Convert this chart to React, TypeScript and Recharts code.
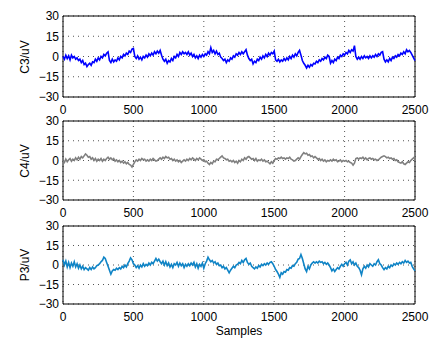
import React from "react";
import { LineChart, Line, XAxis, YAxis, CartesianGrid, ReferenceArea } from "recharts";

// one value every 10 samples
const c3 = [
  0, -2, 1, -1.5, 0.5, -2.5, 1, -1, 0, -2,
  -1, -3, -2, -4.5, -3, -6, -5, -7.5, -6, -5,
  -6.5, -4, -4.5, -2, -3.5, -1, -2.5, 0, -1, 1.5,
  0.5, 2.5, 3.5, -3, -4.5, -2, -4, -2.5, -3.5, -1,
  -2.5, 0, -1, 1.5, 0.5, 2.5, 1.5, 4, 3, 5.5,
  6, 0, -1.5, 0.5, -2, -0.5, -2.5, 0, -1, 1,
  -0.5, 2, 0.5, 2.5, 1, 3.5, 2, 4, 2.5, 4.5,
  1, -2, -3.5, -2, -5, -3, -4, -1.5, -3, 0,
  -1, 1.5, 0, 3, 1.5, 3.5, 2, 3, 1.5, 3.5,
  1, 2.5, 0, 1.5, -1, 0.5, -1.5, 1, -0.5, 1.5,
  0, 2, 1, 3.5, 2, 6.5, 3, 4.5, 2, 4,
  1.5, 2.5, -0.5, -1.5, -3, -2, -4.5, -2.5, -3.5, -1,
  -2, 0.5, -0.5, 2, 1, 3, 1.5, 3.5, 2, 3.5,
  5, 1, -1.5, -3, -2, -5.5, -3.5, -4.5, -2, -3,
  -0.5, -2, 0.5, -1, 1.5, 0, 2.5, 1, 3, 2,
  4, -2.5, -3.5, -2, -4, -2.5, -3.5, -1.5, -3, -1,
  -2.5, 0, -1.5, 1, -0.5, 2, 0.5, 3, 4.5, 1,
  -3, -5, -6.5, -8.5, -6.5, -8, -6, -7, -5, -5.5,
  -3.5, -4.5, -2.5, -3.5, -1.5, -2.5, -0.5, -1.5, 1, 0,
  -5, -3, -4.5, -2, -3, -0.5, -1.5, 1, 0, 2,
  1, 3, 2, 4.5, 3, 5, 4, 8, 0, -2,
  -0.5, -2, 0, -1.5, 0.5, -1, 0, -1.5, 0.5, -1,
  0.5, -0.5, 1.5, 0, 2, 1, 3, 3.5, -2, -4,
  -2.5, -4, -1.5, -3, -0.5, -1.5, 0.5, -0.5, 1.5, 0.5,
  2.5, 1.5, 3.5, 2, 5, 3.5, 4.5, 3, 1, -1,
  -3,
];

const c4 = [
  0, -1.5, 1, -1, 0.5, 1.5, -0.5, 1, 0, 2,
  0.5, 2.5, 1, 3, 2, 3.5, 5, 4, 2.5, 3,
  1, 2, 0, 1.5, -0.5, 1, 0, 1.5, -0.5, 1,
  0, 1.5, 2.5, 1, 2, 0.5, 1.5, -0.5, 0.5, -1,
  0, -1.5, -0.5, -2, -1, -2.5, -1.5, -3, -3.5, -5,
  -3, -1, 0.5, -0.5, 1, 0, 1.5, 0.5, 1, -0.5,
  0.5, -0.5, 1, 0, 1.5, 0.5, -0.5, 0, 1, 2,
  1, 2.5, 1.5, 3, 2, 2.5, 1, 1.5, 0, 1,
  -0.5, 0.5, -1, 0, -1.5, -0.5, 0.5, -0.5, 1, 0,
  1.5, 0.5, 2, 1, 0, 1.5, 0.5, 2, 1, 0,
  0.5, -1, -0.5, -2, -3, -1.5, -2.5, -0.5, -1, 1,
  0.5, 1.5, 2.5, 3.5, 2, 1.5, 0.5, 1, -0.5, 0,
  -1, 0, -1.5, -0.5, -2, 0, -1, 1, 0, 2,
  1, 2.5, 3, 2, 1, 1.5, 0, 1.5, -0.5, 0.5,
  0, 1, -0.5, 0.5, -1, -0.5, -1.5, -2.5, -1, -2,
  0, 1.5, 1, 2, 1.5, 2.5, 1.5, 2, 1, 2,
  1.5, 2.5, 1, 0.5, -0.5, 0, 1, 2, 1, 3,
  4.5, 6, 5, 5.5, 4, 4.5, 3, 3.5, 2, 3,
  2, 1, 1.5, 0, 1, -0.5, 0.5, -1, 0, -0.5,
  0.5, -0.5, 1, 0, 0.5, -1, -0.5, 0.5, -1, 0,
  -0.5, 0, -1, -0.5, -1.5, -2, -3.5, -2, 1.5, 2,
  1, 2, 1.5, 2.5, 1, 2, 0.5, 1.5, 2, 1,
  1.5, 0.5, 1, 0, 0.5, 1.5, 2.5, 3, 3.5, 3,
  2, 2.5, 1.5, 2, 1, 1.5, 0, 0.5, -1, -1.5,
  -2, -1, -2.5, -3, -2, -1, -1.5, 0, 1, 2,
  3,
];

const p3 = [
  4, 0, 3, -1.5, 2, -2, 1.5, -1, 2.5, -1.5,
  1, -2.5, 0, -3, -1, -3.5, -2, -3, -4, -2,
  -3.5, -1.5, -3, -2, -0.5, 0, 1, 2.5, 3.5, 6,
  5, 2, -1, -4, -7, -4.5, -3.5, -4, -2.5, -3.5,
  -2, -3, -1, -2, 0, -1.5, 1, 3, 5.5, 4,
  1, 0, -2, -0.5, -2.5, 0, -1.5, 1, -1, 0.5,
  -0.5, 1.5, 0, 2, 1, 3, 5, 3, 4.5, 2.5,
  1, 3, 0, 2.5, -0.5, 1.5, -1.5, 0.5, -2, 1,
  0, 2, -1, 1.5, -0.5, 1, -2, 0.5, -1, 1,
  -0.5, 1.5, 0, 2, -1.5, 1, -2.5, 0.5, -1, 1.5,
  -2.5, 1, 3, 6, 4, 2.5, 3.5, 1.5, 2.5, 0.5,
  1.5, -0.5, 0, -2, -1, -3, -2, -4, -6, -4,
  -2.5, -1, -2, 0, 0.5, 2, 1, 3.5, 2, 4,
  5, 2, 0.5, 1.5, -1, -2, -3, -1.5, -2.5, -0.5,
  -1.5, 0.5, -0.5, 1, 0, 1.5, 0.5, 2, 2.5, 1,
  -1, -3.5, -5, -7, -9.5, -6, -7, -5, -5.5, -3.5,
  -4, -2, -2.5, -0.5, -1, 1, 2, 4.5, 5, 8,
  5, 1, -3, -5, -1, -3, 0, 1.5, 2.5, 1.5,
  2.5, 1.5, 3, 2, 2.5, 1, 2, 0.5, 1.5, 0,
  -2, -4.5, -3, -5, -3.5, -2, -3, -1, 0.5, -1,
  1, 2, 0, 3, 4, 1, 2.5, 0, 1.5, -1,
  -2, -4, -7.5, -3, -1, -2.5, 0, -1.5, 1, 0,
  -1, 1, 0, 2.5, 4, 1, 0, -2, -3.5, -2,
  -3, -1, -2, 0, -1, 1, 0, 1.5, 0.5, 2,
  1, 2.5, 1.5, 3.5, 2, 3, 1.5, 2, -1, -3,
  -4.5,
];

const xTicks = [0, 500, 1000, 1500, 2000, 2500];
const yTicks = [-30, -15, 0, 15, 30];

const FONT = '"Liberation Sans", Arial, Helvetica, sans-serif';
const tickStyle = { fill: "#000", fontSize: 12, fontFamily: FONT };
const fmtY = (v: number) => (v < 0 ? `\u2212${-v}` : `${v}`);

// plotTop/plotBottom are page pixels of the axes box
function Panel({ values, color, top, plotBottom, label }: any) {
  const data = values.map((v: number, i: number) => ({ s: i * 10, v }));
  const plotTop = top + 16;
  const height = plotBottom - top + 18 + 6;
  return (
    <>
      <div style={{ position: "absolute", left: 0, top }}>
        <LineChart width={430} height={height} data={data} margin={{ top: 16, right: 15, bottom: 6, left: 13 }}>
          <CartesianGrid stroke="#555" strokeDasharray="1 4" />
          <XAxis
            type="number" dataKey="s" domain={[0, 2500]} ticks={xTicks}
            height={18} axisLine={false} tickLine={false} tickSize={0} tickMargin={8}
            tick={tickStyle} interval={0}
          />
          <YAxis
            type="number" domain={[-30, 30]} ticks={yTicks} width={50}
            axisLine={false} tickLine={false} tickSize={0} tickMargin={4}
            tick={tickStyle} tickFormatter={fmtY} interval={0}
          />
          <ReferenceArea x1={0} x2={2500} y1={-30} y2={30} fill="none" stroke="#000" strokeWidth={1} />
          <Line
            type="linear" dataKey="v" stroke={color} strokeWidth={1.6}
            dot={false} isAnimationActive={false}
          />
        </LineChart>
      </div>
      <div
        style={{
          position: "absolute", left: 25, top: (plotTop + plotBottom) / 2,
          transform: "translate(-50%, -50%) rotate(-90deg)",
          fontFamily: FONT, fontSize: 12, whiteSpace: "nowrap", color: "#000",
        }}
      >
        {label}
      </div>
    </>
  );
}

export default function App() {
  return (
    <div style={{ position: "absolute", left: 0, top: 0, width: 430, height: 338, background: "#fff", overflow: "hidden" }}>
      <Panel values={c3} color="#0000ff" top={0} plotBottom={97} label="C3/uV" />
      <Panel values={c4} color="#808080" top={105} plotBottom={200} label="C4/uV" />
      <Panel values={p3} color="#0f84c6" top={210} plotBottom={304} label="P3/uV" />
      <div
        style={{
          position: "absolute", left: 239, top: 331, transform: "translate(-50%, -50%)",
          fontFamily: FONT, fontSize: 12, color: "#000",
        }}
      >
        Samples
      </div>
    </div>
  );
}
